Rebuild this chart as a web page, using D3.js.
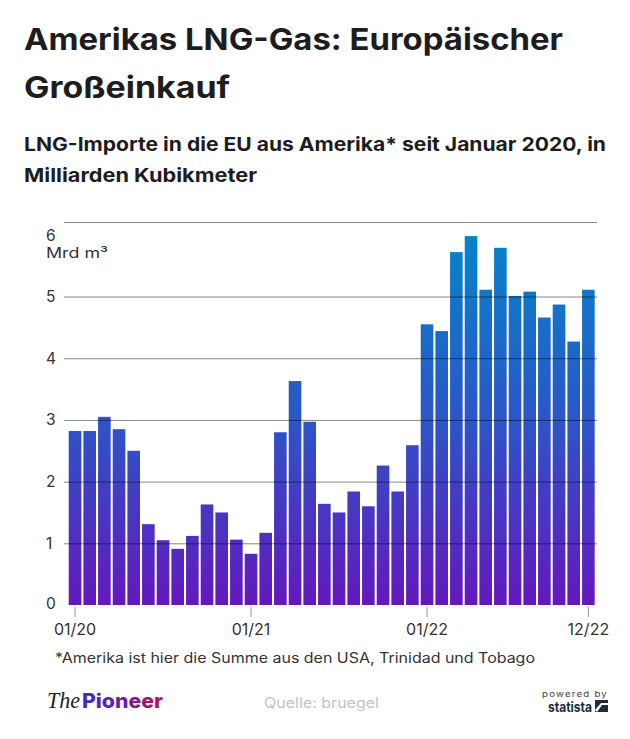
<!DOCTYPE html>
<html>
<head>
<meta charset="utf-8">
<script src="https://cdn.jsdelivr.net/npm/d3@7"></script>
<style>
html, body { margin: 0; padding: 0; background: #fff; }
svg { display: block; }
text { font-family: Inter, "Open Sans", sans-serif; }
</style>
</head>
<body>
<svg id="chart" width="630" height="739"></svg>
<script>
// data
var months = ["01/20","02/20","03/20","04/20","05/20","06/20","07/20","08/20","09/20","10/20","11/20","12/20",
  "01/21","02/21","03/21","04/21","05/21","06/21","07/21","08/21","09/21","10/21","11/21","12/21",
  "01/22","02/22","03/22","04/22","05/22","06/22","07/22","08/22","09/22","10/22","11/22","12/22"];
var imports = [2.82,2.82,3.05,2.85,2.50,1.31,1.05,0.91,1.12,1.63,1.50,1.06,
  0.83,1.17,2.80,3.63,2.97,1.64,1.50,1.84,1.60,2.26,1.84,2.59,
  4.55,4.44,5.72,5.98,5.11,5.79,5.01,5.08,4.66,4.87,4.27,5.11];
var yTicks = [0,1,2,3,4,5,6];
var xTicks = ["01/20","01/21","01/22","12/22"];

var svg = d3.select("#chart");

// scales
var x = d3.scaleBand().domain(months).range([67.7, 595.7]).paddingInner(0.14).paddingOuter(0.07);
var y = d3.scaleLinear().domain([0, 6.2]).range([605, 222.5]);

// gradients
var defs = svg.append("defs");
var barGrad = defs.append("linearGradient").attr("id", "barGrad")
  .attr("gradientUnits", "userSpaceOnUse")
  .attr("x1", 0).attr("x2", 0).attr("y1", y(6)).attr("y2", y(0));
barGrad.append("stop").attr("offset", "0%").attr("stop-color", "#0585c9");
barGrad.append("stop").attr("offset", "50%").attr("stop-color", "#2c55c8");
barGrad.append("stop").attr("offset", "100%").attr("stop-color", "#6418bd");
var logoGrad = defs.append("linearGradient").attr("id", "logoGrad");
logoGrad.append("stop").attr("offset", "0%").attr("stop-color", "#3a2cc0");
logoGrad.append("stop").attr("offset", "60%").attr("stop-color", "#7a1a9a");
logoGrad.append("stop").attr("offset", "100%").attr("stop-color", "#c4104e");

// titles
function label(str, px, py, size, weight, color, len) {
  var t = svg.append("text").attr("x", px).attr("y", py)
    .attr("font-size", size).attr("font-weight", weight).attr("fill", color).text(str);
  if (len) t.attr("textLength", len).attr("lengthAdjust", "spacingAndGlyphs");
  return t;
}
label("Amerikas LNG-Gas: Europäischer", 24, 50, 30, 700, "#1d1d1f", 539);
label("Großeinkauf", 24, 98, 30, 700, "#1d1d1f", 206);
label("LNG-Importe in die EU aus Amerika* seit Januar 2020, in", 24, 151, 19, 700, "#1d1d1f", 582);
label("Milliarden Kubikmeter", 24, 182, 19, 700, "#1d1d1f", 233);

// bars
svg.append("g").selectAll("rect")
  .data(imports)
  .enter().append("rect")
  .attr("x", function(d, i){ return x(months[i]); })
  .attr("y", function(d){ return y(d); })
  .attr("width", x.bandwidth())
  .attr("height", function(d){ return y(0) - y(d); })
  .attr("fill", "url(#barGrad)");

// y axis with grid lines on top of the bars
var yAxis = d3.axisLeft(y).tickValues(yTicks).tickSize(0).tickFormat(d3.format("d"));
var yG = svg.append("g").attr("transform", "translate(64,0)").call(yAxis);
yG.select(".domain").remove();
yG.selectAll("text")
  .attr("x", -18).attr("text-anchor", "start")
  .attr("font-size", 15.5).attr("fill", "#333")
  .attr("dy", function(d){ return d == 6 ? "0.38em" : d == 0 ? "0.25em" : "0.32em"; });
yG.selectAll("line")
  .attr("x2", function(d){ return d == 0 || d == 6 ? 0 : 533; })
  .attr("stroke", "#000").attr("stroke-opacity", 0.48);
svg.append("line")
  .attr("x1", 64).attr("x2", 597).attr("y1", y(6.2)).attr("y2", y(6.2))
  .attr("stroke", "#8a8a8a").attr("stroke-width", 1.2);
label("Mrd m³", 46, 258, 14, 400, "#333", 62);

// x axis
var xAxis = d3.axisBottom(x).tickValues(xTicks).tickSize(0).tickPadding(19);
var xG = svg.append("g").attr("transform", "translate(0,605)").call(xAxis);
xG.select(".domain").remove();
xG.selectAll("text").attr("font-size", 16).attr("fill", "#333");
xG.selectAll("line").attr("y1", 2).attr("y2", 12).attr("stroke", "#999");

// footer
label("*Amerika ist hier die Summe aus den USA, Trinidad und Tobago", 55, 663, 14, 400, "#333", 480);
svg.append("text").attr("x", 47).attr("y", 708)
  .style("font-family", "'Liberation Serif', serif").style("font-style", "italic")
  .attr("font-size", 23).attr("fill", "#222")
  .attr("textLength", 33).attr("lengthAdjust", "spacingAndGlyphs").text("The");
label("Pioneer", 82, 708, 20, 800, "url(#logoGrad)", 81);
label("Quelle: bruegel", 264, 708, 14.5, 400, "#c4c4c4", 115);
label("powered by", 542, 697, 8, 400, "#444", 66).attr("letter-spacing", 1);
label("statista", 548, 712, 14, 700, "#1d2b3a", 44);
svg.append("rect").attr("x", 595).attr("y", 700).attr("width", 13).attr("height", 12).attr("fill", "#1d2b3a");
svg.append("path").attr("d", "M595 710 L601 703 L608 703 L608 705 L602 705 L597 712 Z").attr("fill", "#fff");
</script>
</body>
</html>
